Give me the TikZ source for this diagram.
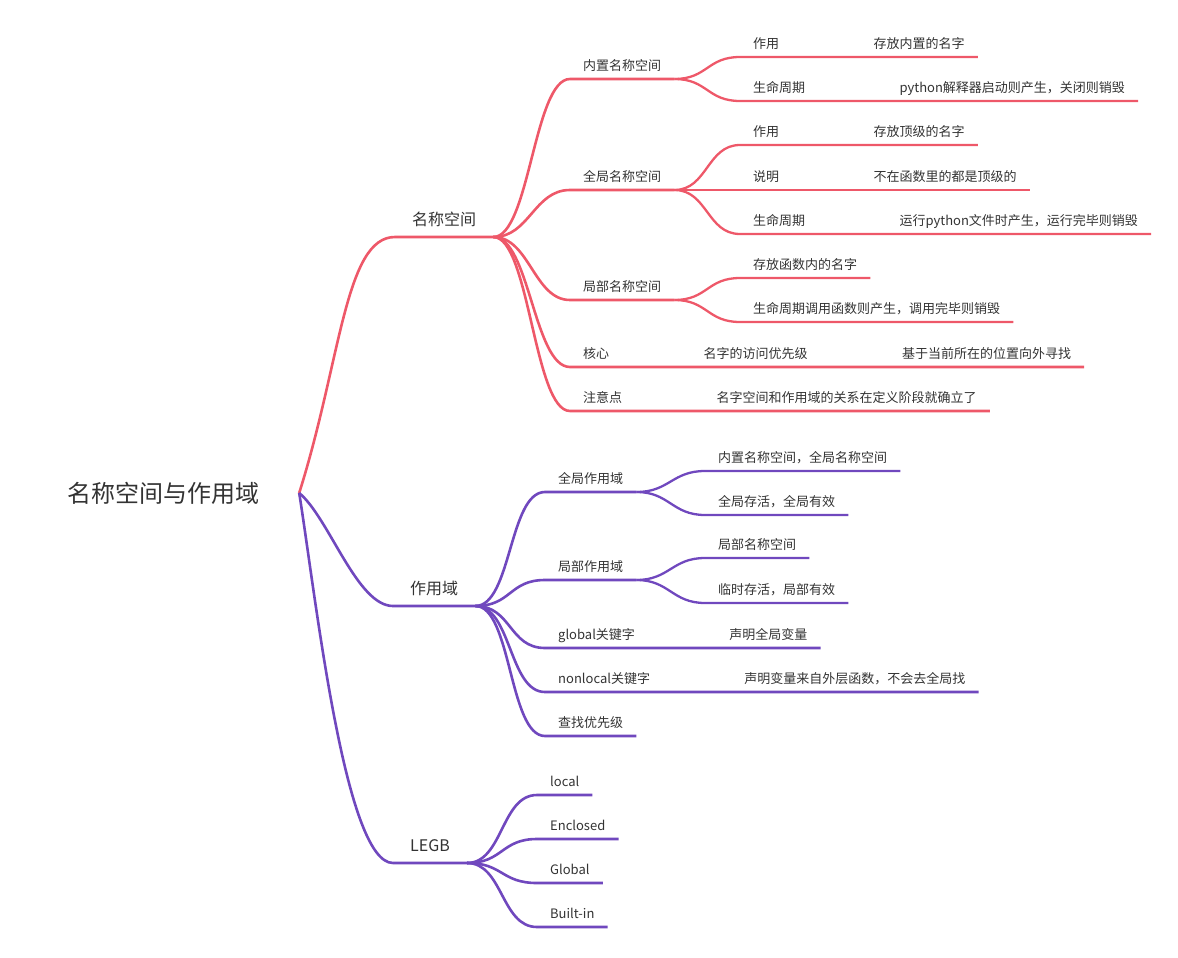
\documentclass[tikz,border=0pt]{standalone}
\usepackage{fontspec}
\setmainfont{Noto Sans CJK SC}
\usepackage{tikz}
\usetikzlibrary{positioning}
\definecolor{nsred}{RGB}{238,88,105}
\definecolor{zypurple}{RGB}{112,72,190}
\definecolor{txtgray}{RGB}{51,51,51}

\begin{document}
\begin{tikzpicture}[x=1pt,y=-1pt,
            root/.style={font=\fontsize{24}{28}\selectfont, text=txtgray, inner xsep=40pt},
            main/.style={font=\fontsize{16}{19}\selectfont, text=txtgray, anchor=south west,
                inner xsep=17pt, inner ysep=7pt, text height=12pt, text depth=4pt},
            topic/.style={font=\fontsize{13}{16}\selectfont, text=txtgray, anchor=south west,
                inner xsep=13pt, inner ysep=5pt, text height=10pt, text depth=3pt},
            nsline/.style={draw=nsred, line width=2.6pt},
            zyline/.style={draw=zypurple, line width=2.6pt},
            leaf/.style={line width=2.3pt}]

            \useasboundingbox (0,0) rectangle (1178,958);

            \node [root] (root) at (163,493) {名称空间与作用域};

            \node [main] (ns) at (395,237) {名称空间};
            \node [main] (zy) at (393,606) {作用域};
            \node [main] (lg) at (393,863) {LEGB};

            \node [topic] (ns1) at (570,79) {内置名称空间};
            \node [topic] (ns2) at (570,190) {全局名称空间};
            \node [topic] (ns3) at (570,300) {局部名称空间};
            \node [topic] (ns4) at (570,367) {核心};
            \node [topic] (ns5) at (570,411) {注意点};

            \node [topic] (ns1a) at (740,57) {作用};
            \node [topic,right=68pt of ns1a] (ns1c) {存放内置的名字};
            \node [topic] (ns1b) at (740,101) {生命周期};
            \node [topic,right=68pt of ns1b] (ns1d) {python解释器启动则产生，关闭则销毁};

            \node [topic] (ns2a) at (740,145) {作用};
            \node [topic,right=68pt of ns2a] (ns2d) {存放顶级的名字};
            \node [topic] (ns2b) at (740,190) {说明};
            \node [topic,right=68pt of ns2b] (ns2e) {不在函数里的都是顶级的};
            \node [topic] (ns2c) at (740,234) {生命周期};
            \node [topic,right=68pt of ns2c] (ns2f) {运行python文件时产生，运行完毕则销毁};

            \node [topic] (ns3a) at (740,278) {存放函数内的名字};
            \node [topic] (ns3b) at (740,322) {生命周期调用函数则产生，调用完毕则销毁};

            \node [topic,right=68pt of ns4] (ns4a) {名字的访问优先级};
            \node [topic,right=68pt of ns4a] (ns4b) {基于当前所在的位置向外寻找};
            \node [topic,right=68pt of ns5] (ns5a) {名字空间和作用域的关系在定义阶段就确立了};

            \node [topic] (zy1) at (545,492) {全局作用域};
            \node [topic] (zy2) at (545,580) {局部作用域};
            \node [topic] (zy3) at (545,648) {global关键字};
            \node [topic] (zy4) at (545,692) {nonlocal关键字};
            \node [topic] (zy5) at (545,736) {查找优先级};

            \node [topic] (zy1a) at (705,471) {内置名称空间，全局名称空间};
            \node [topic] (zy1b) at (705,515) {全局存活，全局有效};
            \node [topic] (zy2a) at (705,558) {局部名称空间};
            \node [topic] (zy2b) at (705,603) {临时存活，局部有效};
            \node [topic,right=68pt of zy3] (zy3a) {声明全局变量};
            \node [topic,right=68pt of zy4] (zy4a) {声明变量来自外层函数，不会去全局找};

            \node [topic] (lg1) at (537,795) {local};
            \node [topic] (lg2) at (537,839) {Enclosed};
            \node [topic] (lg3) at (537,883) {Global};
            \node [topic] (lg4) at (537,927) {Built-in};

            \draw [nsline] (root.east) .. controls +(42,-133) and +(-50,0) .. (ns.south west) -- (ns.south east);
            \draw [zyline] (root.east) .. controls +(30,25) and +(-36,0) .. (zy.south west) -- (zy.south east);
            \draw [zyline] (root.east) .. controls +(17,107) and +(-48,0) .. (lg.south west) -- (lg.south east);

            \draw [nsline] (ns.south east) .. controls +(36,0) and +(-36,0) .. (ns1.south west) -- (ns1.south east);
            \draw [nsline] (ns.south east) .. controls +(36,0) and +(-36,0) .. (ns2.south west) -- (ns2.south east);
            \draw [nsline] (ns.south east) .. controls +(36,0) and +(-36,0) .. (ns3.south west) -- (ns3.south east);
            \draw [nsline] (ns.south east) .. controls +(36,0) and +(-36,0) .. (ns4.south west) -- (ns4.south east)
                -- (ns4a.south west) -- (ns4a.south east) -- (ns4b.south west) -- (ns4b.south east);
            \draw [nsline] (ns.south east) .. controls +(36,0) and +(-36,0) .. (ns5.south west) -- (ns5.south east)
                -- (ns5a.south west) -- (ns5a.south east);

            \draw [nsline,leaf] (ns1.south east) .. controls +(33,0) and +(-33,0) .. (ns1a.south west) -- (ns1a.south east)
                -- (ns1c.south west) -- (ns1c.south east);
            \draw [nsline,leaf] (ns1.south east) .. controls +(33,0) and +(-33,0) .. (ns1b.south west) -- (ns1b.south east)
                -- (ns1d.south west) -- (ns1d.south east);
            \draw [nsline,leaf] (ns2.south east) .. controls +(33,0) and +(-33,0) .. (ns2a.south west) -- (ns2a.south east)
                -- (ns2d.south west) -- (ns2d.south east);
            \draw [nsline,leaf] (ns2.south east) .. controls +(33,0) and +(-33,0) .. (ns2b.south west) -- (ns2b.south east)
                -- (ns2e.south west) -- (ns2e.south east);
            \draw [nsline,leaf] (ns2.south east) .. controls +(33,0) and +(-33,0) .. (ns2c.south west) -- (ns2c.south east)
                -- (ns2f.south west) -- (ns2f.south east);
            \draw [nsline,leaf] (ns3.south east) .. controls +(33,0) and +(-33,0) .. (ns3a.south west) -- (ns3a.south east);
            \draw [nsline,leaf] (ns3.south east) .. controls +(33,0) and +(-33,0) .. (ns3b.south west) -- (ns3b.south east);

            \draw [zyline] (zy.south east) .. controls +(36,0) and +(-36,0) .. (zy1.south west) -- (zy1.south east);
            \draw [zyline] (zy.south east) .. controls +(36,0) and +(-36,0) .. (zy2.south west) -- (zy2.south east);
            \draw [zyline] (zy.south east) .. controls +(36,0) and +(-36,0) .. (zy3.south west) -- (zy3.south east)
                -- (zy3a.south west) -- (zy3a.south east);
            \draw [zyline] (zy.south east) .. controls +(36,0) and +(-36,0) .. (zy4.south west) -- (zy4.south east)
                -- (zy4a.south west) -- (zy4a.south east);
            \draw [zyline] (zy.south east) .. controls +(36,0) and +(-36,0) .. (zy5.south west) -- (zy5.south east);

            \draw [zyline,leaf] (zy1.south east) .. controls +(33,0) and +(-33,0) .. (zy1a.south west) -- (zy1a.south east);
            \draw [zyline,leaf] (zy1.south east) .. controls +(33,0) and +(-33,0) .. (zy1b.south west) -- (zy1b.south east);
            \draw [zyline,leaf] (zy2.south east) .. controls +(33,0) and +(-33,0) .. (zy2a.south west) -- (zy2a.south east);
            \draw [zyline,leaf] (zy2.south east) .. controls +(33,0) and +(-33,0) .. (zy2b.south west) -- (zy2b.south east);

            \draw [zyline] (lg.south east) .. controls +(36,0) and +(-36,0) .. (lg1.south west) -- (lg1.south east);
            \draw [zyline] (lg.south east) .. controls +(36,0) and +(-36,0) .. (lg2.south west) -- (lg2.south east);
            \draw [zyline] (lg.south east) .. controls +(36,0) and +(-36,0) .. (lg3.south west) -- (lg3.south east);
            \draw [zyline] (lg.south east) .. controls +(36,0) and +(-36,0) .. (lg4.south west) -- (lg4.south east);

        \end{tikzpicture}
\end{document}
